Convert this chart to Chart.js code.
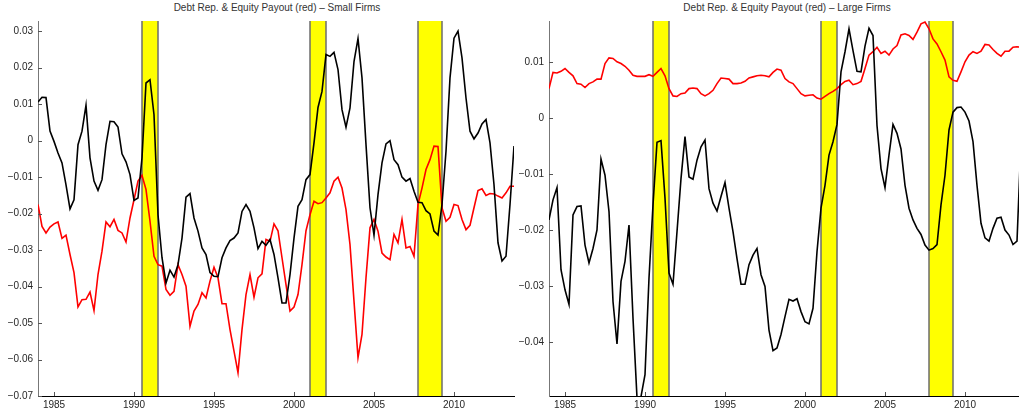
<!DOCTYPE html>
<html>
<head>
<meta charset="utf-8">
<script src="https://cdn.jsdelivr.net/npm/chart.js@4.4.1/dist/chart.umd.min.js"></script>
<style>
html, body { margin: 0; padding: 0; background: #fff; overflow: hidden; width: 1019px; height: 415px; }
.ttl { position: absolute; top: 2px; font: 10px "Liberation Sans", Arial, sans-serif; color: #333; white-space: nowrap; transform: translateX(-50%); }
canvas { position: absolute; top: 0; }
</style>
</head>
<body>
<div class="ttl" style="left:277px">Debt Rep. &amp; Equity Payout (red) – Small Firms</div>
<div class="ttl" style="left:787px">Debt Rep. &amp; Equity Payout (red) – Large Firms</div>
<canvas id="small" width="520" height="415" style="left:0"></canvas>
<canvas id="large" width="514" height="415" style="left:511px"></canvas>
<script>
// quarterly data, first quarter = 1984Q1
var startYear = 1984;
var xTicks = [1985, 1990, 1995, 2000, 2005, 2010];
var recStart = [1990.5, 2001.0, 2007.75];
var recEnd = [1991.5, 2002.0, 2009.25];

var smallDebt = [
  0.0106, 0.0119, 0.0118, 0.0026, -0.0002, -0.0034, -0.0061, -0.0121,
  -0.0187, -0.0162, -0.0011, 0.0026, 0.0097, -0.0047, -0.0111, -0.0136,
  -0.0107, -0.0011, 0.0053, 0.0052, 0.0037, -0.0036, -0.0058, -0.0093,
  -0.0164, -0.0157, -0.0047, 0.0158, 0.0167, 0.0071, -0.0203, -0.0321,
  -0.0390, -0.0355, -0.0374, -0.0340, -0.0267, -0.0155, -0.0145, -0.0212,
  -0.0248, -0.0294, -0.0312, -0.0362, -0.0372, -0.0373, -0.0321, -0.0294,
  -0.0274, -0.0267, -0.0253, -0.0194, -0.0175, -0.0194, -0.0239, -0.0296,
  -0.0276, -0.0287, -0.0271, -0.0312, -0.0376, -0.0445, -0.0445, -0.0367,
  -0.0267, -0.0180, -0.0162, -0.0107, -0.0093, -0.0006, 0.0091, 0.0135,
  0.0236, 0.0231, 0.0242, 0.0195, 0.0085, 0.0037, 0.0090, 0.0217,
  0.0280, 0.0172, -0.0011, -0.0184, -0.0259, -0.0148, -0.0061, -0.0009,
  0.0000, -0.0052, -0.0066, -0.0100, -0.0111, -0.0104, -0.0139, -0.0169,
  -0.0170, -0.0192, -0.0201, -0.0248, -0.0259, -0.0175, -0.0029, 0.0172,
  0.0281, 0.0300, 0.0227, 0.0117, 0.0026, 0.0005, 0.0021, 0.0046,
  0.0058, -0.0006, -0.0121, -0.0280, -0.0330, -0.0317, -0.0175, -0.0015
];
var smallPayout = [
  -0.0175, -0.0235, -0.0253, -0.0237, -0.0228, -0.0223, -0.0268, -0.0259,
  -0.0312, -0.0362, -0.0456, -0.0436, -0.0435, -0.0415, -0.0466, -0.0367,
  -0.0303, -0.0223, -0.0236, -0.0216, -0.0246, -0.0253, -0.0278, -0.0212,
  -0.0162, -0.0111, -0.0095, -0.0134, -0.0221, -0.0317, -0.0340, -0.0344,
  -0.0408, -0.0424, -0.0413, -0.0340, -0.0367, -0.0399, -0.0509, -0.0467,
  -0.0449, -0.0417, -0.0431, -0.0385, -0.0347, -0.0376, -0.0447, -0.0447,
  -0.0518, -0.0577, -0.0636, -0.0518, -0.0422, -0.0367, -0.0429, -0.0376,
  -0.0365, -0.0271, -0.0276, -0.0228, -0.0247, -0.0321, -0.0395, -0.0467,
  -0.0456, -0.0422, -0.0340, -0.0247, -0.0203, -0.0166, -0.0173, -0.0170,
  -0.0157, -0.0143, -0.0111, -0.0100, -0.0130, -0.0189, -0.0285, -0.0440,
  -0.0595, -0.0531, -0.0376, -0.0239, -0.0216, -0.0248, -0.0308, -0.0319,
  -0.0326, -0.0257, -0.0280, -0.0216, -0.0294, -0.0290, -0.0317, -0.0175,
  -0.0130, -0.0079, -0.0052, -0.0015, -0.0016, -0.0184, -0.0221, -0.0210,
  -0.0175, -0.0178, -0.0216, -0.0244, -0.0232, -0.0184, -0.0137, -0.0132,
  -0.0150, -0.0145, -0.0146, -0.0152, -0.0157, -0.0143, -0.0125, -0.0125
];
var largeDebt = [
  -0.0182, -0.0146, -0.0124, -0.0271, -0.0307, -0.0333, -0.0173, -0.0158,
  -0.0157, -0.0227, -0.0259, -0.0233, -0.0200, -0.0073, -0.0102, -0.0167,
  -0.0328, -0.0404, -0.0292, -0.0256, -0.0191, -0.0358, -0.0500, -0.0498,
  -0.0459, -0.0286, -0.0155, -0.0043, -0.0040, -0.0143, -0.0277, -0.0297,
  -0.0203, -0.0108, -0.0033, -0.0105, -0.0109, -0.0075, -0.0051, -0.0039,
  -0.0126, -0.0152, -0.0166, -0.0140, -0.0115, -0.0161, -0.0203, -0.0251,
  -0.0297, -0.0297, -0.0262, -0.0245, -0.0233, -0.0280, -0.0301, -0.0379,
  -0.0416, -0.0411, -0.0387, -0.0355, -0.0324, -0.0327, -0.0323, -0.0346,
  -0.0364, -0.0368, -0.0340, -0.0239, -0.0161, -0.0120, -0.0066, -0.0042,
  -0.0011, 0.0083, 0.0119, 0.0160, 0.0121, 0.0084, 0.0083, 0.0129,
  0.0161, 0.0148, -0.0013, -0.0090, -0.0124, -0.0066, -0.0011, -0.0027,
  -0.0055, -0.0120, -0.0161, -0.0182, -0.0197, -0.0208, -0.0227, -0.0236,
  -0.0233, -0.0226, -0.0155, -0.0102, -0.0021, 0.0011, 0.0019, 0.0020,
  0.0011, -0.0005, -0.0042, -0.0120, -0.0188, -0.0214, -0.0220, -0.0197,
  -0.0179, -0.0177, -0.0200, -0.0209, -0.0226, -0.0220, -0.0040, 0.0020
];
var largePayout = [
  0.0053, 0.0082, 0.0081, 0.0084, 0.0089, 0.0082, 0.0076, 0.0062,
  0.0061, 0.0055, 0.0062, 0.0065, 0.0070, 0.0070, 0.0098, 0.0108,
  0.0107, 0.0101, 0.0098, 0.0093, 0.0086, 0.0077, 0.0075, 0.0075,
  0.0075, 0.0078, 0.0075, 0.0082, 0.0089, 0.0076, 0.0053, 0.0040,
  0.0039, 0.0044, 0.0045, 0.0053, 0.0054, 0.0053, 0.0044, 0.0040,
  0.0044, 0.0050, 0.0062, 0.0072, 0.0071, 0.0070, 0.0062, 0.0062,
  0.0063, 0.0066, 0.0072, 0.0074, 0.0076, 0.0077, 0.0076, 0.0074,
  0.0082, 0.0088, 0.0086, 0.0071, 0.0065, 0.0062, 0.0053, 0.0044,
  0.0040, 0.0041, 0.0042, 0.0036, 0.0034, 0.0039, 0.0044, 0.0048,
  0.0053, 0.0060, 0.0066, 0.0068, 0.0060, 0.0062, 0.0066, 0.0089,
  0.0113, 0.0119, 0.0127, 0.0116, 0.0120, 0.0113, 0.0124, 0.0130,
  0.0149, 0.0151, 0.0148, 0.0141, 0.0154, 0.0169, 0.0172, 0.0160,
  0.0142, 0.0133, 0.0119, 0.0104, 0.0074, 0.0068, 0.0066, 0.0083,
  0.0101, 0.0113, 0.0119, 0.0116, 0.0120, 0.0132, 0.0131, 0.0123,
  0.0116, 0.0111, 0.0120, 0.0120, 0.0127, 0.0128, 0.0127, 0.0126
];
var smallYTicks = [-0.07, -0.06, -0.05, -0.04, -0.03, -0.02, -0.01, 0, 0.01, 0.02, 0.03];
var largeYTicks = [-0.04, -0.03, -0.02, -0.01, 0, 0.01];

var FONT = { family: '"Liberation Sans", Arial, sans-serif', size: 10 };
var TXT = '#262626';

function toPoints(vals) {
  return vals.map(function (v, i) { return { x: startYear + i / 4, y: v }; });
}

function fmtY(v) {
  if (Math.abs(v) < 1e-9) return '0';
  return (v < 0 ? '\u2212' : '') + Math.abs(v).toFixed(2);
}

var recessions = {
  id: 'recessions',
  beforeDatasetsDraw: function (chart) {
    var ctx = chart.ctx, a = chart.chartArea, x = chart.scales.x;
    ctx.save();
    for (var i = 0; i < recStart.length; i++) {
      var x0 = x.getPixelForValue(recStart[i]);
      var x1 = x.getPixelForValue(recEnd[i]);
      ctx.fillStyle = '#ffff00';
      ctx.fillRect(x0, a.top, x1 - x0, a.bottom - a.top);
      ctx.strokeStyle = '#6e6e6e';
      ctx.lineWidth = 1.5;
      ctx.beginPath();
      ctx.moveTo(x0, a.top); ctx.lineTo(x0, a.bottom);
      ctx.moveTo(x1, a.top); ctx.lineTo(x1, a.bottom);
      ctx.stroke();
    }
    ctx.restore();
  }
};

// matlab style ticks pointing into the plot
var inwardTicks = {
  id: 'inwardTicks',
  afterDatasetsDraw: function (chart) {
    var ctx = chart.ctx, a = chart.chartArea, x = chart.scales.x, y = chart.scales.y;
    ctx.save();
    ctx.strokeStyle = '#555';
    ctx.lineWidth = 1;
    ctx.beginPath();
    y.ticks.forEach(function (t) {
      var py = Math.round(y.getPixelForValue(t.value)) + 0.5;
      ctx.moveTo(a.left, py); ctx.lineTo(a.left + 4, py);
    });
    x.ticks.forEach(function (t) {
      var px = Math.round(x.getPixelForValue(t.value)) + 0.5;
      ctx.moveTo(px, a.bottom); ctx.lineTo(px, a.bottom - 4);
    });
    ctx.stroke();
    ctx.restore();
  }
};

function makeChart(id, debt, payout, yMin, yMax, yTicks, padRight) {
  return new Chart(document.getElementById(id), {
    type: 'line',
    data: {
      datasets: [
        { data: toPoints(debt), borderColor: '#000', borderWidth: 1.6 },
        { data: toPoints(payout), borderColor: '#ff0000', borderWidth: 1.6 }
      ]
    },
    options: {
      responsive: false,
      animation: false,
      layout: { padding: { top: 21, right: padRight, left: 0, bottom: 0 } },
      elements: { point: { radius: 0 }, line: { tension: 0 } },
      plugins: { legend: { display: false }, tooltip: { enabled: false } },
      scales: {
        x: {
          type: 'linear',
          min: startYear,
          max: 2013.75,
          afterBuildTicks: function (s) { s.ticks = xTicks.map(function (v) { return { value: v }; }); },
          afterFit: function (s) { s.height = 19; },
          grid: { display: true, drawOnChartArea: false, drawTicks: false },
          border: { color: '#000', width: 1 },
          ticks: { font: FONT, color: TXT, padding: 3, maxRotation: 0, autoSkip: false,
                   callback: function (v) { return String(v); } }
        },
        y: {
          min: yMin,
          max: yMax,
          afterBuildTicks: function (s) { s.ticks = yTicks.map(function (v) { return { value: v }; }); },
          afterFit: function (s) { s.width = 38; },
          grid: { display: true, drawOnChartArea: false, drawTicks: false },
          border: { color: '#777', width: 1 },
          ticks: { font: FONT, color: TXT, padding: 5, autoSkip: false, callback: fmtY }
        }
      }
    },
    plugins: [recessions, inwardTicks]
  });
}

makeChart('small', smallDebt, smallPayout, -0.07, 0.0328, smallYTicks, 6);
makeChart('large', largeDebt, largePayout, -0.0497, 0.0174, largeYTicks, 0);
</script>
</body>
</html>
